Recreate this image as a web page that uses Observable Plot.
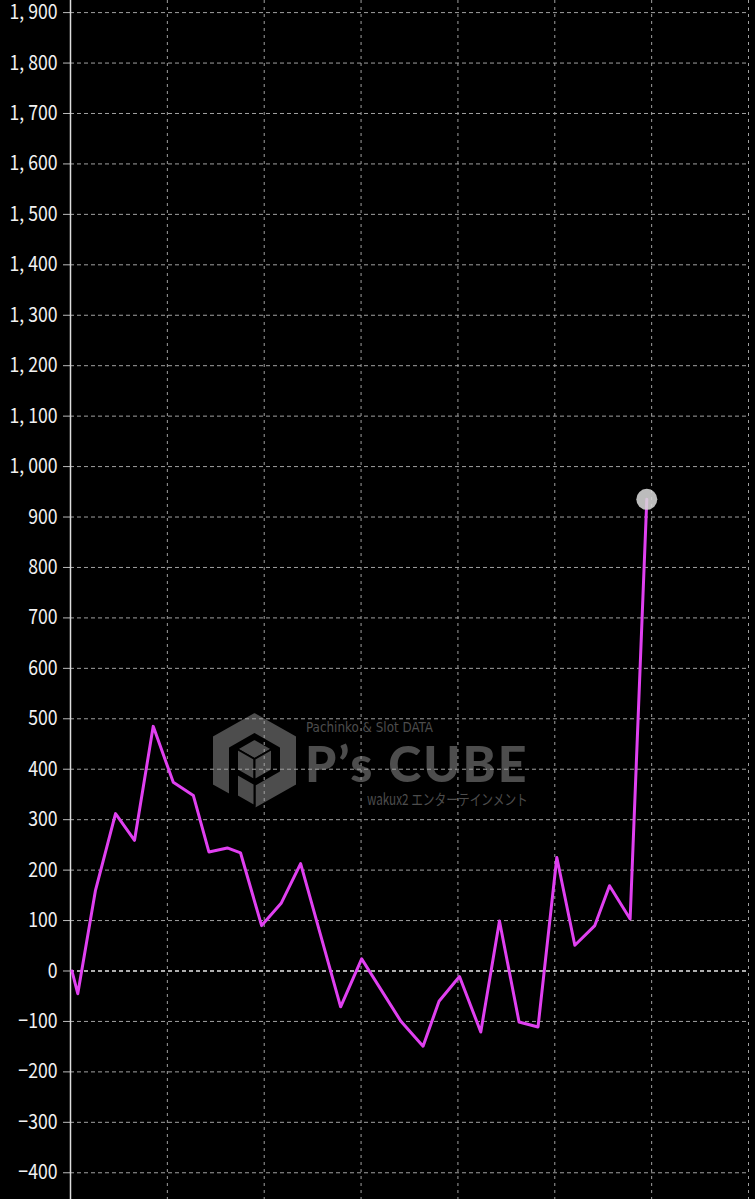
<!DOCTYPE html>
<html><head><meta charset="utf-8">
<script src="https://cdn.jsdelivr.net/npm/d3@7"></script>
<script src="https://cdn.jsdelivr.net/npm/@observablehq/plot@0.6"></script>
<style>
html,body{margin:0;padding:0;background:#000;}
#wrap{position:relative;width:755px;height:1199px;overflow:hidden;background:#000;}
#wm{position:absolute;left:0;top:0;width:755px;height:1199px;z-index:0;}
#chart{position:absolute;left:0;top:0;z-index:1;}
.wt{position:absolute;color:#4d4d4d;white-space:nowrap;transform-origin:0 0;line-height:1;}
</style></head><body>
<div id="wrap">
  <div id="wm">
    <svg width="755" height="1199" style="position:absolute;left:0;top:0">
      <g fill="#4d4d4d" stroke="#000" stroke-width="2" stroke-linejoin="round">
        <polygon points="254.5,712 297,736 297,785 254.5,809 254.5,785 279,771 279,748 254.5,734 230,748 230,795 212,785 212,736"/>
        <polygon points="254.5,739 272,749 254.5,759 237,749"/>
        <polygon points="237,749 254.5,759 254.5,780 237,770"/>
        <polygon points="272,749 254.5,759 254.5,780 272,770"/>
        <polygon points="237,774 254.5,784 254.5,806 237,796"/>
      </g>
    </svg>
    <div class="wt" style="left:306px;top:720px;font:14px 'DejaVu Sans Condensed','DejaVu Sans',sans-serif;line-height:1;transform:scaleX(0.95)">Pachinko &amp; Slot DATA</div>
    <div class="wt" style="left:305px;top:743px;font:900 50px 'Lato',sans-serif;line-height:0.8;letter-spacing:2px;">P’s CUBE</div>
    <div class="wt" style="left:367px;top:791px;font:15px 'Noto Sans CJK JP',sans-serif;line-height:1;transform:scaleX(0.78)">wakux2 エンターテインメント</div>
  </div>
  <div id="chart"></div>
</div>
<script>
const games = [15, 75, 258, 465, 661, 854, 1061, 1268, 1429, 1619, 1756, 1973, 2177, 2376, 2789, 3006, 3409, 3640, 3805, 4016, 4236, 4429, 4631, 4827, 5021, 5207, 5413, 5565, 5778, 5950];
const diff  = [0, -45, 160, 312, 259, 485, 374, 348, 236, 244, 234, 90, 135, 213, -71, 24, -99, -149, -60, -11, -121, 99, -101, -111, 225, 51, 90, 169, 103, 935];
const yTicks = [-400,-300,-200,-100,0,100,200,300,400,500,600,700,800,900,1000,1100,1200,1300,1400,1500,1600,1700,1800,1900];
const xGrid = [1000,2000,3000,4000,5000,6000,7000];

const data = games.map((g, i) => ({g, v: diff[i]}));
const last = [data[data.length - 1]];
const fmt = d => d3.format(",")(d).replace(",", ", ");

const chart = Plot.plot({
  width: 755,
  height: 1199,
  marginLeft: 70,
  marginRight: 7,
  marginTop: 0,
  marginBottom: 0,
  style: {background: "transparent", fontFamily: "'Noto Sans CJK JP', sans-serif", fontSize: "20px", color: "#f0f0f0"},
  x: {domain: [0, 7000], axis: null},
  y: {domain: [-453, 1924], axis: null},
  marks: [
    Plot.ruleY(yTicks.filter(d => d !== 0), {stroke: "#a0a0a0", strokeDasharray: "4,3", strokeWidth: 1}),
    Plot.ruleX(xGrid, {stroke: "#a0a0a0", strokeDasharray: "3,4", strokeWidth: 1}),
    Plot.ruleY([0], {stroke: "#e8e8e8", strokeDasharray: "4,3", strokeWidth: 1.6}),
    Plot.axisY({ticks: yTicks, label: null, tickSize: 7, tickPadding: 6, tickFormat: fmt, fontSize: 20.5, fill: "#f2f2f2", stroke: "#bbbbbb"}),
    Plot.ruleX([0], {stroke: "#dddddd", strokeWidth: 1.5}),
    Plot.line(data, {x: "g", y: "v", stroke: "#e040f0", strokeWidth: 3}),
    Plot.dot(last, {x: "g", y: "v", r: 10.5, fill: "#d6d6d6", fillOpacity: 0.88, stroke: "none"})
  ]
});
document.getElementById("chart").appendChild(chart);
// condense the tick labels horizontally (they stay anchored at their right edge)
chart.querySelectorAll('g[aria-label="y-axis tick label"] text').forEach(t => {
  const w = t.getComputedTextLength();
  if (w > 0) {
    t.setAttribute("textLength", (w * 0.86).toFixed(2));
    t.setAttribute("lengthAdjust", "spacingAndGlyphs");
  }
});
</script>
</body></html>
